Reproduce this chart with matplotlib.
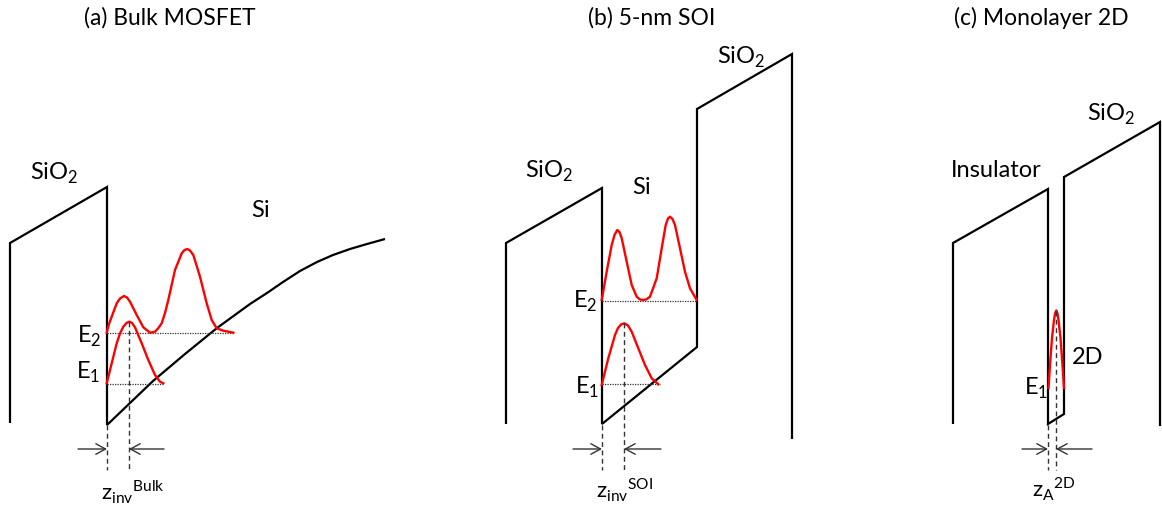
#!/usr/bin/env python
"""Band diagrams: bulk MOSFET vs 5-nm SOI vs monolayer 2D channel (out.png)."""

import matplotlib

matplotlib.use("Agg")
import matplotlib.pyplot as plt

plt.rcParams["font.family"] = ["Lato", "DejaVu Sans"]
plt.rcParams["mathtext.fontset"] = "custom"
plt.rcParams["mathtext.rm"] = "Lato"

# ---- geometry (pixel coordinates, y downwards) ----
# (a) bulk MOSFET: oxide barrier + bent Si conduction band
BULK_BAND_X = [10, 10, 107, 107, 130, 153, 185, 217, 250, 267, 283, 300, 317, 333,
               350, 367, 385]
BULK_BAND_Y = [423, 243, 187, 425, 403, 381, 354, 328, 304, 293, 282, 271, 262, 255,
               249, 244, 239]
BULK_PSI2_X = [106.7, 109, 111.7, 116.7, 120, 124, 127, 130, 136.7, 143.3, 150, 155,
               158, 161.7, 165, 168.3, 175, 181.7, 184.5, 187.3, 190, 193.3, 200,
               206.7, 211.7, 216.7, 223.3, 233.3]
BULK_PSI2_Y = [332.7, 324, 316.7, 303.3, 298.5, 296, 297.5, 301.7, 315, 327.3, 332.7,
               331.7, 328.5, 323.3, 313, 300, 270, 253.3, 250, 249, 250.5, 255, 276.7,
               303.3, 320, 328.3, 330.7, 332.7]
BULK_PSI1_X = [106.7, 111.7, 116.7, 120, 123.3, 126.5, 129.3, 132, 135, 141.7, 148.3,
               155, 160, 163.3]
BULK_PSI1_Y = [383.3, 363.3, 343.3, 333.5, 326.7, 323, 321.7, 323, 327.3, 343.3, 360,
               375, 381.7, 383.3]
BULK_LEVELS = [(333, 107, 234), (384, 107, 163)]  # (E, z start, z end)
BULK_ZINV = (107, 129, 322)  # interface, centroid, centroid peak

# (b) 5-nm SOI: double oxide well
SOI_BAND_X = [506, 506, 602, 602, 697, 697, 792, 792]
SOI_BAND_Y = [424, 243, 188, 424, 347, 109, 54, 439]
SOI_PSI2_X = [601.7, 606.7, 611.7, 614.5, 617.3, 619.5, 621.7, 626.7, 631.7, 636.7,
              640, 643.3, 646.5, 650, 656.7, 661.7, 665.7, 668, 670, 672.5, 675, 680,
              685, 690, 696.7]
SOI_PSI2_Y = [300, 271.7, 245, 235, 230, 232, 238.3, 261.7, 285, 296.7, 299.5, 300,
              299.3, 296.7, 278.3, 248.3, 225, 218.5, 216.7, 219, 225, 248.3, 271.7,
              288.3, 300]
SOI_PSI1_X = [601.7, 608.3, 615, 618, 621, 624.3, 628, 631.7, 638.3, 645, 651.7, 658.3]
SOI_PSI1_Y = [385, 358.3, 335, 328, 324.5, 323.3, 325.5, 331.7, 348.3, 365, 378.3,
              384.3]
SOI_LEVELS = [(301, 602, 697), (384, 602, 660)]
SOI_ZINV = (602, 624, 323)

# (c) monolayer 2D channel
TWO_D_BAND_X = [953, 953, 1048, 1048, 1064, 1064, 1160, 1160]
TWO_D_BAND_Y = [424, 243, 189, 424, 414, 177, 122, 426]
TWO_D_PSI1_X = [1048.5, 1050, 1052, 1054, 1055.2, 1056.3, 1057.4, 1058.5, 1060.5,
                1062.5, 1064]
TWO_D_PSI1_Y = [388, 365, 338, 320, 313, 310.5, 313, 320, 338, 365, 388]
TWO_D_ZA = (1048, 1056, 311)

TITLES = ["(a) Bulk MOSFET", "(b) 5-nm SOI", "(c) Monolayer 2D"]
Z_LABELS = [r"z$_\mathregular{inv}$$^\mathregular{Bulk}$",
            r"z$_\mathregular{inv}$$^\mathregular{SOI}$",
            r"z$_\mathregular{A}$$^\mathregular{2D}$"]

BLACK = "#000000"
RED = "#ff0000"
GUIDE = "#333333"


def draw_zmark(ax, zmark, label, label_x, label_y, arrow_len=(29, 35)):
    z0, zc, ypk = zmark
    ax.plot([z0, z0], [425, 470], color=GUIDE, lw=1.0, ls=(0, (3.5, 2.5)))
    ax.plot([zc, zc], [ypk, 470], color=GUIDE, lw=1.0, ls=(0, (3.5, 2.5)))
    style = "->,head_length=0.7,head_width=0.38"
    ax.annotate("", xy=(z0, 449), xytext=(z0 - arrow_len[0], 449),
                arrowprops=dict(arrowstyle=style, lw=1.0, color=GUIDE,
                                shrinkA=0, shrinkB=0))
    ax.annotate("", xy=(zc, 449), xytext=(zc + arrow_len[1], 449),
                arrowprops=dict(arrowstyle=style, lw=1.0, color=GUIDE,
                                shrinkA=0, shrinkB=0))
    ax.text(label_x, label_y, label, fontsize=16, ha="left", va="baseline")


def main():
    fig = plt.figure(figsize=(11.62, 5.08), dpi=100, facecolor="white")
    ax = fig.add_axes([0, 0, 1, 1])
    ax.set_xlim(0, 1162)
    ax.set_ylim(508, 0)
    ax.axis("off")

    lw_band = 1.6
    lw_psi = 1.7
    dot = dict(color=GUIDE, lw=0.9, ls=(0, (1, 1)))

    # band edges
    for bx, by in [(BULK_BAND_X, BULK_BAND_Y), (SOI_BAND_X, SOI_BAND_Y),
                   (TWO_D_BAND_X, TWO_D_BAND_Y)]:
        ax.plot(bx, by, color=BLACK, lw=lw_band, solid_joinstyle="miter",
                solid_capstyle="butt")

    # subband levels
    for e, x0, x1 in BULK_LEVELS + SOI_LEVELS:
        ax.plot([x0, x1], [e, e], **dot)

    # wavefunctions
    for px, py in [(BULK_PSI2_X, BULK_PSI2_Y), (BULK_PSI1_X, BULK_PSI1_Y),
                   (SOI_PSI2_X, SOI_PSI2_Y), (SOI_PSI1_X, SOI_PSI1_Y),
                   (TWO_D_PSI1_X, TWO_D_PSI1_Y)]:
        ax.plot(px, py, color=RED, lw=lw_psi, solid_joinstyle="round")

    # centroid markers
    draw_zmark(ax, BULK_ZINV, Z_LABELS[0], 101, 500)
    draw_zmark(ax, SOI_ZINV, Z_LABELS[1], 596, 498, arrow_len=(29, 37))
    draw_zmark(ax, TWO_D_ZA, Z_LABELS[2], 1032, 497, arrow_len=(26, 36))

    # titles
    fs = 16.5
    for x, t in zip([170, 652, 1041], TITLES):
        ax.text(x, 25, t, fontsize=fs, ha="center", va="baseline")

    # region labels
    fl = 17
    sio2 = r"SiO$_\mathregular{2}$"
    ax.text(30, 180, sio2, fontsize=fl, va="baseline")
    ax.text(251, 217, "Si", fontsize=fl, va="baseline")
    ax.text(525, 178, sio2, fontsize=fl, va="baseline")
    ax.text(717, 64, sio2, fontsize=fl, va="baseline")
    ax.text(632, 194, "Si", fontsize=fl, va="baseline")
    ax.text(951, 177, "Insulator", fontsize=fl, va="baseline")
    ax.text(1087, 121, sio2, fontsize=fl, va="baseline")
    ax.text(1072, 364, "2D", fontsize=fl, va="baseline")

    # energy labels
    ax.text(77, 343, r"E$_\mathregular{2}$", fontsize=fl, va="baseline")
    ax.text(76, 379, r"E$_\mathregular{1}$", fontsize=fl, va="baseline")
    ax.text(573, 308, r"E$_\mathregular{2}$", fontsize=fl, va="baseline")
    ax.text(575, 394, r"E$_\mathregular{1}$", fontsize=fl, va="baseline")
    ax.text(1024, 395, r"E$_\mathregular{1}$", fontsize=fl, va="baseline")

    fig.savefig("out.png", dpi=100, facecolor="white")
    plt.close(fig)


if __name__ == "__main__":
    main()
